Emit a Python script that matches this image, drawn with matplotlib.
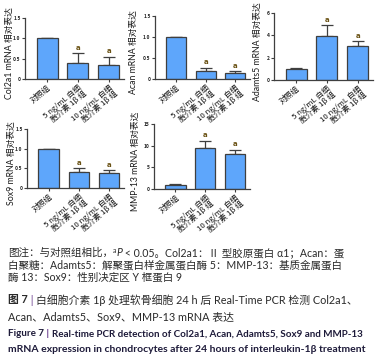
import numpy as np
import matplotlib
matplotlib.use('Agg')
import matplotlib.pyplot as plt

plt.rcParams['font.family'] = ['Noto Sans CJK SC', 'DejaVu Sans']

# data
groups = ['对照组', '5 ng/mL 白细\n胞介素 1β 组', '10 ng/mL 白细\n胞介素 1β 组']
col2a1 = [1.0, 0.39, 0.34]
col2a1_err = [0.0, 0.25, 0.21]
acan = [1.0, 0.20, 0.15]
acan_err = [0.0, 0.07, 0.04]
adamts5 = [1.0, 3.95, 3.03]
adamts5_err = [0.05, 0.95, 0.42]
sox9 = [1.0, 0.40, 0.37]
sox9_err = [0.0, 0.10, 0.08]
mmp13 = [1.0, 9.4, 8.1]
mmp13_err = [0.15, 1.7, 1.0]
sig = ['', 'a', 'a']

W, H = 386, 364
fig = plt.figure(figsize=(W / 100, H / 100), dpi=100)

BAR = '#5ea6fb'
EDGE = '#3f3f3f'
LAB = ['Lato', 'Noto Sans CJK SC', 'DejaVu Sans']


def panel(px, py_top, py_bot, pright, vals, errs, ymax, yticks, yticklabels, ylabel, lab_x):
    ax = fig.add_axes([px / W, 1 - py_bot / H, (pright - px) / W, (py_bot - py_top) / H])
    x = np.arange(len(vals))
    ax.bar(x, vals, width=0.68, color=BAR, edgecolor=EDGE, linewidth=0.9, zorder=2)
    ax.errorbar(x, vals, yerr=[np.zeros(len(errs)), errs], fmt='none',
                ecolor=EDGE, elinewidth=0.9, capsize=4, capthick=0.9, zorder=1)
    for xi, v, e, s in zip(x, vals, errs, sig):
        if s:
            ax.text(xi, v + e + ymax * 0.04, s, ha='center', va='bottom',
                    fontsize=5, fontweight='bold', color='#6b5316',
                    family=['DejaVu Sans'])
    ax.set_xlim(-0.72, 2.5)
    ax.set_ylim(0, ymax)
    ax.set_yticks(yticks)
    ax.set_yticklabels(yticklabels, fontsize=3.5, fontweight='bold', color='#222222')
    ax.set_xticks(x)
    ax.set_xticklabels(groups, rotation=40, ha='right', va='top', rotation_mode='anchor',
                       fontsize=5.6, color='#111111', linespacing=0.95)
    for sp in ['top', 'right']:
        ax.spines[sp].set_visible(False)
    for sp in ['left', 'bottom']:
        ax.spines[sp].set_color(EDGE)
        ax.spines[sp].set_linewidth(0.9)
    ax.tick_params(axis='both', length=2, width=0.8, color=EDGE, pad=1.2)
    ax.set_ylabel(ylabel, fontsize=6.3, color='#1a1a1a', family=LAB)
    # label right edge in pixels -> axes fraction
    ax.yaxis.set_label_coords((lab_x - px) / (pright - px), 0.42)
    return ax


panel(25, 18, 79, 124, col2a1, col2a1_err, 1.5, [0, 0.5, 1.0, 1.5],
      ['0', '0.5', '1.0', '1.5'], 'Col2a1 mRNA 相对表达', 14)
panel(155, 16, 79, 250, acan, acan_err, 1.5, [0, 0.5, 1.0, 1.5],
      ['0', '0.5', '1.0', '1.5'], 'Acan mRNA 相对表达', 138)
panel(274, 13, 80, 373, adamts5, adamts5_err, 6, [0, 2, 4, 6],
      ['0', '2', '4', '6'], 'Adamts5 mRNA 相对表达', 262)
panel(27, 129, 188, 124, sox9, sox9_err, 1.5, [0, 0.5, 1.0, 1.5],
      ['0', '0.5', '1.0', '1.5'], 'Sox9 mRNA 相对表达', 16)
panel(154, 124, 189, 250, mmp13, mmp13_err, 15, [0, 5, 10, 15],
      ['0', '5', '10', '15'], 'MMP-13 mRNA 相对表达', 140)

# caption text
renderer = fig.canvas.get_renderer()
CAP = ['Lato', 'Noto Sans CJK SC', 'DejaVu Sans']
TXT = '#2a2a2a'
NAVY = '#1e1b3a'


def line(y_px, pieces, size, x_px=8):
    x = x_px
    for s, kw in pieces:
        kw = dict(kw)
        rise = kw.pop('rise', 0)
        fs = kw.pop('size', size)
        t = fig.text(x / W, 1 - (y_px - rise) / H, s, fontsize=fs, va='baseline',
                     ha='left', family=CAP, color=kw.pop('color', TXT), **kw)
        x += t.get_window_extent(renderer).width


line(256, [('图注：与对照组相比，', {}), ('a', {'size': 5, 'rise': 3}),
           ('P', {'style': 'italic'}),
           (' < 0.05。Col2a1：Ⅱ 型胶原蛋白 α1；Acan：蛋', {})], 7.6)
line(268.5, [('白聚糖：Adamts5：解聚蛋白样金属蛋白酶 5：MMP-13：基质金属蛋白', {})], 7.6)
line(281, [('酶 13：Sox9：性别决定区 Y 框蛋白 9', {})], 7.6)
line(303.5, [('图 7', {'fontweight': 'bold'}), (' | ', {'color': '#6a3d8f'}),
             ('白细胞介素 1β 处理软骨细胞 24 h 后 Real-Time PCR 检测 Col2a1、', {})], 7.8)
line(320, [('Acan、Adamts5、Sox9、MMP-13 mRNA 表达', {})], 7.8)
line(336.5, [('Figure 7', {'fontweight': 'bold', 'color': NAVY}),
             (' | ', {'color': '#6a3d8f', 'fontweight': 'bold'}),
             ('Real-time PCR detection of Col2a1, Acan, Adamts5, Sox9 and MMP-13',
              {'fontweight': 'bold', 'color': NAVY})], 7.15)
line(352.5, [('mRNA expression in chondrocytes after 24 hours of interleukin-1β treatment',
              {'fontweight': 'bold', 'color': NAVY})], 7.5)

fig.savefig('out.png', dpi=100)
